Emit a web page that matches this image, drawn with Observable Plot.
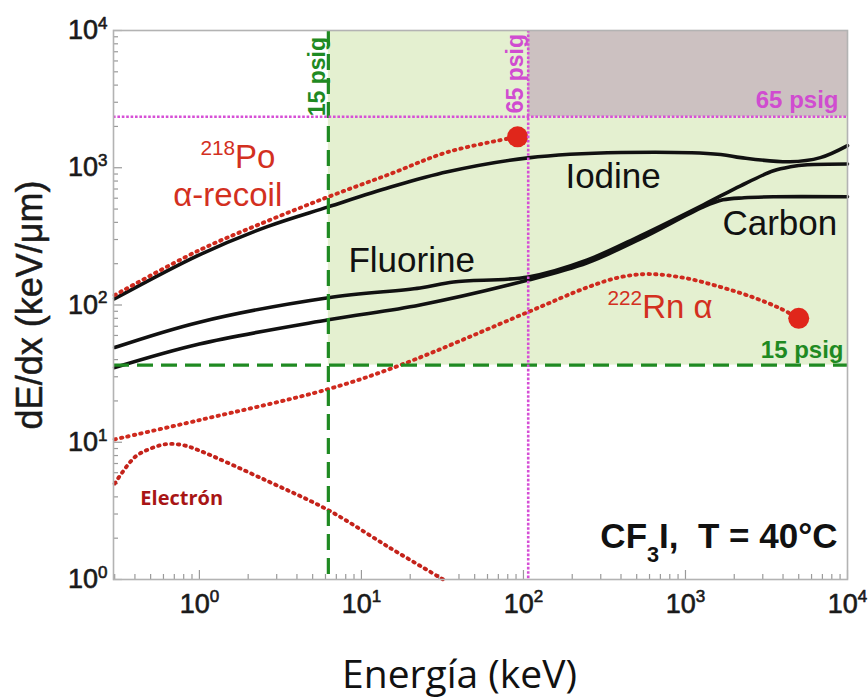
<!DOCTYPE html>
<html>
<head>
<meta charset="utf-8">
<script src="https://cdn.jsdelivr.net/npm/d3@7"></script>
<script src="https://cdn.jsdelivr.net/npm/@observablehq/plot@0.6"></script>
<style>
  html, body { margin: 0; padding: 0; background: #ffffff; }
  svg text { white-space: pre; }
</style>
</head>
<body>
<div id="chart"></div>
<script>
// ---------- data (energy in keV, dE/dx in keV/µm) ----------
const iodineEnergy   = [0.3, 1, 2.6, 6.25, 15, 34, 107, 400, 1650, 2200, 4400, 6800, 10000];
const iodineDedx     = [111, 232, 371, 519, 720, 935, 1180, 1290, 1250, 1185, 1105, 1185, 1450];

const fluorineEnergy = [0.3, 1, 6.25, 23, 37, 107, 248, 527, 1291, 2188, 3493, 4446, 5663, 10000];
const fluorineDedx   = [49, 75, 113, 133, 147, 160, 213, 319, 537, 739, 951, 1017, 1052, 1066];

const carbonEnergy   = [0.3, 1, 6.25, 23, 107, 248, 527, 1291, 1700, 2300, 3500, 10000];
const carbonDedx     = [35, 52, 78, 100, 152, 203, 303, 519, 584, 604, 614, 614];

const poEnergy       = [0.3, 1, 2.6, 6.25, 15, 34, 92];
const poDedx         = [118, 251, 407, 614, 900, 1300, 1680];

const rnEnergy       = [0.3, 1, 6.25, 17.4, 107, 250, 400, 600, 1000, 1650, 2600, 3800, 5000];
const rnDedx         = [10.5, 14.5, 24.4, 36.5, 89, 135, 160, 168, 157, 135, 114, 95, 80];

const electronEnergy = [0.3, 0.4, 0.5, 0.63, 0.8, 1, 2.6, 6.25, 15, 32];
const electronDedx   = [5.0, 7.8, 9.0, 9.7, 9.5, 8.7, 5.25, 3.2, 1.7, 1.0];

// end points of the alpha tracks
const endEnergy = [92, 5000];
const endDedx   = [1680, 80];

// pressure thresholds
const psig15Energy = 6.25;
const psig15Dedx   = 36.5;
const psig65Energy = 107;
const psig65Dedx   = 2355;

// axes
const xDomain = [0.295, 10000];
const yDomain = [1, 10000];
const xMajorTicks = [1, 10, 100, 1000, 10000];
const yMajorTicks = [1, 10, 100, 1000, 10000];
const tickLabels  = ["10^{0}", "10^{1}", "10^{2}", "10^{3}", "10^{4}"];
const xTitle = "Energía (keV)";
const yTitle = "dE/dx (keV/μm)";

// annotation labels (anchored in data space)
const curveLabels = [
  {text: "Iodine",   x: 181.6, y: 714},
  {text: "Carbon",   x: 1691,  y: 324},
  {text: "Fluorine", x: 8.31,  y: 174}
];
const redLabels = [
  {text: "^{218}Po",    x: 1.014, y: 1000},
  {text: "α-recoil",    x: 0.69,  y: 528},
  {text: "^{222}Rn α",  x: 330,   y: 80.4}
];
const electronLabel = [{text: "Electrón", x: 0.432, y: 3.47}];
const gasLabel = [{text: "CF_{3}I,  T = 40°C", x: 8670, y: 1.71}];
const greenVLabel = [{text: "15 psig", x: 6.0, y: 4615}];
const magentaVLabel = [{text: "65 psig", x: 100, y: 4853}];
const magentaHLabel = [{text: "65 psig", x: 8795, y: 2741}];
const greenHLabel = [{text: "15 psig", x: 9445, y: 41.0}];

// ---------- helpers ----------
const rows = (xs, ys) => xs.map((x, i) => ({x, y: ys[i]}));
const minorTicks = (lo, hi) => {
  const out = [];
  for (let e = Math.floor(Math.log10(lo)); e < Math.ceil(Math.log10(hi)); e++)
    for (let m = 2; m <= 9; m++) {
      const v = m * Math.pow(10, e);
      if (v > lo && v < hi) out.push(v);
    }
  return out;
};
const xMinorTicks = minorTicks(xDomain[0], xDomain[1]);
const yMinorTicks = minorTicks(yDomain[0], yDomain[1]);

const W = 868, H = 700;
const M = {top: 30, right: 21, bottom: 121, left: 113};
const frameW = W - M.left - M.right;
const frameH = H - M.top - M.bottom;

const greenZone = [{x1: psig15Energy, x2: xDomain[1], y1: psig15Dedx, y2: yDomain[1]}];
const grayZone  = [{x1: psig65Energy, x2: xDomain[1], y1: psig65Dedx, y2: yDomain[1]}];

const black = "#111111";
const red = "#cf2a1e";
const green = "#1f8a22";
const magenta = "#d64fd6";
const dotted = {strokeDasharray: "1.4,5.2", strokeLinecap: "round", strokeWidth: 3.9};
const solid = {stroke: black, strokeWidth: 3.6, curve: "catmull-rom", strokeLinejoin: "round"};
const helv = "Liberation Sans, Arial, Helvetica, sans-serif";

const chart = Plot.plot({
  width: W, height: H,
  marginTop: M.top, marginRight: M.right, marginBottom: M.bottom, marginLeft: M.left,
  style: {fontFamily: helv, background: "#ffffff", overflow: "visible"},
  x: {type: "log", domain: xDomain, axis: null},
  y: {type: "log", domain: yDomain, axis: null},
  marks: [
    Plot.rect(greenZone, {x1: "x1", x2: "x2", y1: "y1", y2: "y2", fill: "#e4f0d0"}),
    Plot.rect(grayZone,  {x1: "x1", x2: "x2", y1: "y1", y2: "y2", fill: "#ccc1c1"}),

    // inner ticks
    Plot.ruleX(xMinorTicks, {stroke: "#9a9a9a", strokeWidth: 1.2, insetTop: frameH - 5}),
    Plot.ruleX(xMajorTicks, {stroke: "#9a9a9a", strokeWidth: 1.2, insetTop: frameH - 9}),
    Plot.ruleY(yMinorTicks, {stroke: "#9a9a9a", strokeWidth: 1.2, insetRight: frameW - 5}),
    Plot.ruleY(yMajorTicks, {stroke: "#9a9a9a", strokeWidth: 1.2, insetRight: frameW - 9}),

    // curves
    Plot.line(rows(carbonEnergy, carbonDedx), {x: "x", y: "y", ...solid}),
    Plot.line(rows(fluorineEnergy, fluorineDedx), {x: "x", y: "y", ...solid}),
    Plot.line(rows(iodineEnergy, iodineDedx), {x: "x", y: "y", ...solid}),
    Plot.line(rows(poEnergy, poDedx), {x: "x", y: "y", stroke: red, curve: "catmull-rom", ...dotted}),
    Plot.line(rows(rnEnergy, rnDedx), {x: "x", y: "y", stroke: red, curve: "catmull-rom", ...dotted}),
    Plot.line(rows(electronEnergy, electronDedx), {x: "x", y: "y", stroke: "#c4221a", curve: "catmull-rom", ...dotted}),
    Plot.dot(rows(endEnergy, endDedx), {x: "x", y: "y", r: 10.5, fill: "#e0261b", stroke: "none"}),

    // pressure threshold lines
    Plot.ruleX([psig15Energy], {stroke: green, strokeWidth: 3.2, strokeDasharray: "16,8"}),
    Plot.ruleY([psig15Dedx], {stroke: green, strokeWidth: 3.2, strokeDasharray: "16,8"}),
    Plot.ruleX([psig65Energy], {stroke: magenta, strokeWidth: 2.6, strokeDasharray: "2.6,1.8"}),
    Plot.ruleY([psig65Dedx], {stroke: magenta, strokeWidth: 2.6, strokeDasharray: "2.6,1.8"}),

    Plot.frame({stroke: "#b3b3b3", strokeWidth: 1.6}),

    // tick labels
    Plot.text(xMajorTicks, {x: d => d, frameAnchor: "bottom", dy: 14, lineAnchor: "top",
      text: (d, i) => tickLabels[i], fontSize: 27, fill: "#1a1a1a", stroke: "#1a1a1a", strokeWidth: 0.6,
      textAnchor: "middle"}),
    Plot.text(yMajorTicks, {y: d => d, frameAnchor: "left", dx: -6, lineAnchor: "middle",
      text: (d, i) => tickLabels[i], fontSize: 27, fill: "#1a1a1a", stroke: "#1a1a1a", strokeWidth: 0.6,
      textAnchor: "end"}),

    // axis titles
    Plot.text([yTitle], {frameAnchor: "left", dx: -72, rotate: -90, textAnchor: "middle",
      lineAnchor: "bottom", fontSize: 36, fill: "#1a1a1a", stroke: "#1a1a1a", strokeWidth: 0.5, text: d => d}),
    Plot.text([xTitle], {frameAnchor: "bottom", dx: -21, dy: 108, textAnchor: "middle",
      lineAnchor: "bottom", fontSize: 39, fill: "#111", fontFamily: "Open Sans, Noto Sans, sans-serif", text: d => d}),

    // annotations
    Plot.text(curveLabels, {x: "x", y: "y", text: "text", textAnchor: "start", lineAnchor: "bottom",
      fontSize: 35, fill: black}),
    Plot.text(redLabels, {x: "x", y: "y", text: "text", textAnchor: "start", lineAnchor: "bottom",
      fontSize: 33, fill: "#d3301f"}),
    Plot.text(electronLabel, {x: "x", y: "y", text: "text", textAnchor: "start", lineAnchor: "bottom",
      fontSize: 20, fontWeight: "bold", fill: "#a81515", fontFamily: "Open Sans, Noto Sans, sans-serif"}),
    Plot.text(gasLabel, {x: "x", y: "y", text: "text", textAnchor: "end", lineAnchor: "bottom",
      fontSize: 35, fontWeight: "bold", fill: black}),
    Plot.text(greenVLabel, {x: "x", y: "y", text: "text", textAnchor: "middle", lineAnchor: "bottom",
      rotate: -90, fontSize: 23, fontWeight: "bold", fill: green}),
    Plot.text(magentaVLabel, {x: "x", y: "y", text: "text", textAnchor: "middle", lineAnchor: "bottom",
      rotate: -90, fontSize: 23, fontWeight: "bold", fill: "#d04cd0"}),
    Plot.text(magentaHLabel, {x: "x", y: "y", text: "text", textAnchor: "end", lineAnchor: "bottom",
      fontSize: 24, fontWeight: "bold", fill: "#d04cd0"}),
    Plot.text(greenHLabel, {x: "x", y: "y", text: "text", textAnchor: "end", lineAnchor: "bottom",
      fontSize: 24, fontWeight: "bold", fill: green})
  ]
});

document.getElementById("chart").appendChild(chart);

// turn ^{..} and _{..} into real superscript / subscript tspans
function richify(root) {
  root.querySelectorAll("text").forEach(t => {
    const s = t.textContent;
    if (!/[\^_]\{/.test(s)) return;
    const fs = parseFloat(getComputedStyle(t).fontSize) || 16;
    const parts = s.split(/([\^_]\{[^}]*\})/).filter(p => p.length);
    while (t.firstChild) t.removeChild(t.firstChild);
    let shift = 0;
    for (const p of parts) {
      const ts = document.createElementNS("http://www.w3.org/2000/svg", "tspan");
      let target = 0, txt = p, size = null;
      if (p.startsWith("^{")) { target = -0.38 * fs; txt = p.slice(2, -1); size = 0.63 * fs; }
      else if (p.startsWith("_{")) { target = 0.42 * fs; txt = p.slice(2, -1); size = 0.62 * fs; }
      const dy = target - shift;
      if (dy) ts.setAttribute("dy", dy.toFixed(2));
      if (size) ts.setAttribute("font-size", size.toFixed(2));
      shift = target;
      ts.textContent = txt;
      t.appendChild(ts);
    }
  });
}
richify(chart);
</script>
</body>
</html>
